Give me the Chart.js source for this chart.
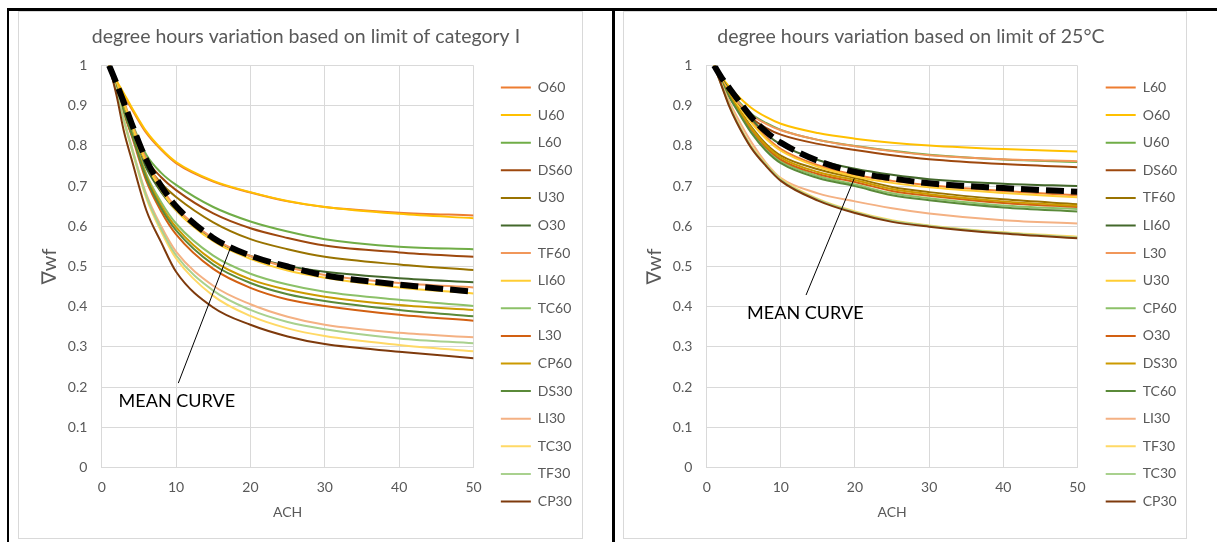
<!DOCTYPE html>
<html>
<head>
<meta charset="utf-8">
<script src="https://cdn.jsdelivr.net/npm/chart.js@4.4.1/dist/chart.umd.min.js"></script>
<style>
  html, body { margin: 0; padding: 0; background: #fff; }
  body { width: 1217px; height: 542px; position: relative; overflow: hidden; }
  .rule { position: absolute; background: #000; }
  .frame { position: absolute; border: 1px solid #d9d9d9; box-sizing: border-box; pointer-events: none; z-index: 2; }
  canvas { position: absolute; top: 11px; }
</style>
</head>
<body>
<div class="rule" style="left:7px; top:8px; width:1210px; height:3px;"></div>
<div class="rule" style="left:7px; top:8px; width:2px; height:534px;"></div>
<div class="rule" style="left:612px; top:8px; width:3px; height:534px;"></div>
<div class="frame" style="left:18px; top:11px; width:565px; height:528px;"></div>
<div class="frame" style="left:623px; top:11px; width:564px; height:528px;"></div>
<canvas id="chartCat" width="565" height="567" style="left:18px;"></canvas>
<canvas id="chart25" width="564" height="567" style="left:623px;"></canvas>
<script>
// Air changes per hour at which every curve is sampled
const achValues = [1, 2, 3, 4, 6, 8, 10, 15, 20, 25, 30, 40, 50];
const xTickLabels = ['0', '10', '20', '30', '40', '50'];
const yTickLabels = ['0', '0.1', '0.2', '0.3', '0.4', '0.5', '0.6', '0.7', '0.8', '0.9', '1'];

// Left panel: limit of category I
const catISeriesNames = ['O60', 'U60', 'L60', 'DS60', 'U30', 'O30', 'TF60', 'LI60', 'TC60', 'L30', 'CP60', 'DS30', 'LI30', 'TC30', 'TF30', 'CP30'];
const catIO60  = [1, 0.957, 0.925, 0.893, 0.832, 0.790, 0.757, 0.711, 0.684, 0.662, 0.648, 0.634, 0.627];
const catIU60  = [1, 0.962, 0.930, 0.897, 0.836, 0.793, 0.760, 0.713, 0.685, 0.663, 0.648, 0.631, 0.620];
const catIL60  = [1, 0.952, 0.905, 0.860, 0.778, 0.733, 0.703, 0.648, 0.612, 0.587, 0.568, 0.549, 0.543];
const catIDS60 = [1, 0.950, 0.900, 0.852, 0.767, 0.722, 0.690, 0.632, 0.595, 0.571, 0.552, 0.535, 0.524];
const catIU30  = [1, 0.948, 0.893, 0.843, 0.757, 0.707, 0.673, 0.610, 0.568, 0.543, 0.524, 0.505, 0.491];
const catIO30  = [1, 0.945, 0.885, 0.830, 0.745, 0.685, 0.640, 0.567, 0.526, 0.501, 0.487, 0.471, 0.461];
const catITF60 = [1, 0.955, 0.910, 0.858, 0.765, 0.697, 0.647, 0.570, 0.526, 0.498, 0.479, 0.459, 0.448];
const catILI60 = [1, 0.953, 0.905, 0.852, 0.758, 0.690, 0.640, 0.563, 0.519, 0.490, 0.472, 0.448, 0.433];
const catITC60 = [1, 0.945, 0.890, 0.840, 0.730, 0.660, 0.607, 0.527, 0.482, 0.455, 0.437, 0.417, 0.402];
const catIL30  = [1, 0.940, 0.880, 0.827, 0.713, 0.637, 0.580, 0.494, 0.447, 0.418, 0.402, 0.380, 0.365];
const catICP60 = [1, 0.943, 0.887, 0.835, 0.725, 0.652, 0.598, 0.514, 0.468, 0.442, 0.425, 0.404, 0.392];
const catIDS30 = [1, 0.942, 0.884, 0.832, 0.720, 0.645, 0.590, 0.505, 0.459, 0.431, 0.414, 0.392, 0.376];
const catILI30 = [1, 0.935, 0.865, 0.800, 0.680, 0.600, 0.537, 0.452, 0.406, 0.375, 0.355, 0.335, 0.324];
const catITC30 = [1, 0.932, 0.860, 0.794, 0.670, 0.587, 0.520, 0.427, 0.377, 0.346, 0.327, 0.305, 0.289];
const catITF30 = [1, 0.933, 0.862, 0.797, 0.675, 0.593, 0.528, 0.440, 0.392, 0.362, 0.344, 0.321, 0.309];
const catICP30 = [1, 0.925, 0.835, 0.768, 0.640, 0.560, 0.487, 0.398, 0.355, 0.326, 0.307, 0.288, 0.272];
const catIMean = [1, 0.955, 0.907, 0.857, 0.765, 0.700, 0.650, 0.571, 0.527, 0.500, 0.478, 0.455, 0.437];

// Right panel: limit of 25 °C
const t25SeriesNames = ['L60', 'O60', 'U60', 'DS60', 'TF60', 'LI60', 'L30', 'U30', 'CP60', 'O30', 'DS30', 'TC60', 'LI30', 'TF30', 'TC30', 'CP30'];
const t25L60  = [1, 0.965, 0.935, 0.910, 0.862, 0.822, 0.792, 0.752, 0.728, 0.713, 0.702, 0.688, 0.677];
const t25O60  = [1, 0.972, 0.948, 0.928, 0.895, 0.872, 0.855, 0.832, 0.818, 0.808, 0.801, 0.792, 0.786];
const t25U60  = [1, 0.967, 0.940, 0.917, 0.880, 0.857, 0.840, 0.815, 0.800, 0.788, 0.778, 0.766, 0.760];
const t25DS60 = [1, 0.965, 0.935, 0.910, 0.870, 0.845, 0.828, 0.805, 0.790, 0.777, 0.767, 0.755, 0.747];
const t25TF60 = [1, 0.962, 0.930, 0.902, 0.848, 0.805, 0.776, 0.742, 0.720, 0.698, 0.685, 0.667, 0.655];
const t25LI60 = [1, 0.968, 0.940, 0.913, 0.868, 0.830, 0.803, 0.765, 0.743, 0.728, 0.717, 0.706, 0.700];
const t25L30  = [1, 0.966, 0.938, 0.914, 0.877, 0.855, 0.839, 0.815, 0.799, 0.787, 0.777, 0.767, 0.762];
const t25U30  = [1, 0.964, 0.933, 0.906, 0.858, 0.818, 0.788, 0.748, 0.724, 0.708, 0.697, 0.683, 0.672];
const t25CP60 = [1, 0.960, 0.925, 0.895, 0.838, 0.793, 0.762, 0.725, 0.704, 0.682, 0.670, 0.652, 0.643];
const t25O30  = [1, 0.961, 0.927, 0.898, 0.842, 0.797, 0.766, 0.730, 0.710, 0.688, 0.676, 0.658, 0.648];
const t25DS30 = [1, 0.961, 0.928, 0.900, 0.845, 0.801, 0.771, 0.735, 0.715, 0.693, 0.680, 0.662, 0.651];
const t25TC60 = [1, 0.959, 0.923, 0.892, 0.833, 0.788, 0.757, 0.720, 0.700, 0.677, 0.665, 0.647, 0.637];
const t25LI30 = [1, 0.955, 0.912, 0.875, 0.810, 0.758, 0.720, 0.682, 0.662, 0.645, 0.632, 0.615, 0.607];
const t25TF30 = [1, 0.952, 0.905, 0.865, 0.800, 0.755, 0.718, 0.668, 0.637, 0.615, 0.602, 0.585, 0.574];
const t25TC30 = [1, 0.951, 0.903, 0.863, 0.798, 0.753, 0.716, 0.666, 0.635, 0.613, 0.601, 0.584, 0.572];
const t25CP30 = [1, 0.950, 0.900, 0.860, 0.795, 0.750, 0.713, 0.664, 0.633, 0.611, 0.599, 0.582, 0.570];
const t25Mean = [1, 0.970, 0.945, 0.920, 0.872, 0.835, 0.808, 0.763, 0.735, 0.719, 0.707, 0.695, 0.686];

// Leader line from the mean curve down to its caption, and the caption anchor (ACH, value)
const catIPointer = [{x: 17.3, y: 0.546}, {x: 10.3, y: 0.21}];
const catICaptionAt = {x: 10.1, y: 0.165};
const t25Pointer = [{x: 19.9, y: 0.719}, {x: 13.4, y: 0.429}];
const t25CaptionAt = {x: 13.3, y: 0.385};

// Series colours, in legend order
const seriesColors = ['#ED7D31', '#FFC000', '#70AD47', '#9E480E', '#997300', '#43682B',
  '#F1975A', '#FFCD33', '#8CC168', '#D26012', '#CC9A00', '#5A8A39',
  '#F4B183', '#FFD966', '#A9D18E', '#7E3A0C'];

const FONT = "Lato, 'DejaVu Sans', sans-serif";
const GREY = '#595959';

function buildChart(canvasId, title, names, series, mean, pointer, captionAt, plotRight, gapWidth) {
  const canvas = document.getElementById(canvasId);
  const toPoints = vals => achValues.map((x, i) => ({x: x, y: vals[i]}));
  const datasets = names.map((name, i) => ({
    label: name,
    data: toPoints(series[i]),
    borderColor: seriesColors[i],
    backgroundColor: seriesColors[i],
    borderWidth: 2,
    pointRadius: 0,
    cubicInterpolationMode: 'monotone',
    order: names.length - i + 1
  }));
  datasets.push({
    label: 'MEAN',
    data: toPoints(mean),
    borderColor: '#000',
    borderWidth: 6,
    borderDash: [18, 7],
    borderCapStyle: 'butt',
    pointRadius: 0,
    cubicInterpolationMode: 'monotone',
    order: 0
  });
  datasets.push({
    label: 'pointer',
    data: pointer,
    borderColor: '#000',
    borderWidth: 1,
    pointRadius: 0,
    order: 0
  });

  // Caption for the mean curve, placed in data coordinates
  const caption = {
    id: 'meanCaption',
    afterDatasetsDraw(chart) {
      const c = chart.ctx;
      c.save();
      c.font = '18px ' + FONT;
      c.fillStyle = '#000';
      c.textAlign = 'center';
      c.textBaseline = 'middle';
      c.fillText('MEAN CURVE', chart.scales.x.getPixelForValue(captionAt.x), chart.scales.y.getPixelForValue(captionAt.y));
      c.restore();
    }
  };

  const chart = new Chart(canvas, {
    type: 'line',
    data: {datasets: datasets},
    plugins: [caption],
    options: {
      responsive: false,
      animation: false,
      devicePixelRatio: 1,
      layout: {padding: {left: 16, right: 0, top: 0, bottom: 0}},
      plugins: {
        tooltip: {enabled: false},
        title: {
          display: true,
          text: title,
          color: GREY,
          font: {family: FONT, size: 19.5, weight: 'normal'},
          padding: {top: 14.2, bottom: 16.9}
        },
        legend: {
          position: 'right',
          labels: {
            color: GREY,
            font: {family: FONT, size: 14},
            usePointStyle: true,
            pointStyle: 'line',
            pointStyleWidth: 30,
            padding: 13.6,
            filter: (item) => names.includes(item.text),
            sort: (a, b) => a.datasetIndex - b.datasetIndex
          }
        }
      },
      scales: {
        x: {
          type: 'linear',
          min: 0, max: 50,
          ticks: {stepSize: 10, color: GREY, font: {family: FONT, size: 14}, padding: 12,
            callback: (v, i) => xTickLabels[i]},
          grid: {color: '#D9D9D9', drawTicks: false},
          border: {color: '#D9D9D9'},
          title: {display: true, text: 'ACH', color: GREY, font: {family: FONT, size: 14}, padding: {top: 4, bottom: 57}},
          afterFit: s => { s.height = 110.5; }
        },
        y: {
          min: 0, max: 1,
          ticks: {stepSize: 0.1, color: GREY, font: {family: FONT, size: 14}, padding: 14.4,
            callback: (v, i) => yTickLabels[i]},
          grid: {color: '#D9D9D9', drawTicks: false},
          border: {color: '#D9D9D9'},
          title: {display: true, text: '∇wf', color: GREY, font: {family: FONT, size: 20}, padding: 4},
          afterFit: s => { s.width = 67.7; }
        },
        gap: {
          axis: 'y',
          position: 'right',
          display: true,
          ticks: {display: false},
          grid: {display: false, drawTicks: false},
          border: {display: false},
          afterFit: s => { s.width = gapWidth; }
        }
      }
    }
  });
  // Reserve the space to the right of the legend so the plot ends at plotRight
  chart.options.layout.padding.right = Math.max(0, canvas.width - plotRight - gapWidth - chart.legend.width);
  chart.update();
  return chart;
}

buildChart('chartCat', 'degree hours variation based on limit of category I', catISeriesNames,
  [catIO60, catIU60, catIL60, catIDS60, catIU30, catIO30, catITF60, catILI60, catITC60, catIL30, catICP60, catIDS30, catILI30, catITC30, catITF30, catICP30],
  catIMean, catIPointer, catICaptionAt, 454.7, 13.7);

buildChart('chart25', 'degree hours variation based on limit of 25°C', t25SeriesNames,
  [t25L60, t25O60, t25U60, t25DS60, t25TF60, t25LI60, t25L30, t25U30, t25CP60, t25O30, t25DS30, t25TC60, t25LI30, t25TF30, t25TC30, t25CP30],
  t25Mean, t25Pointer, t25CaptionAt, 453.7, 14.7);
</script>
</body>
</html>
